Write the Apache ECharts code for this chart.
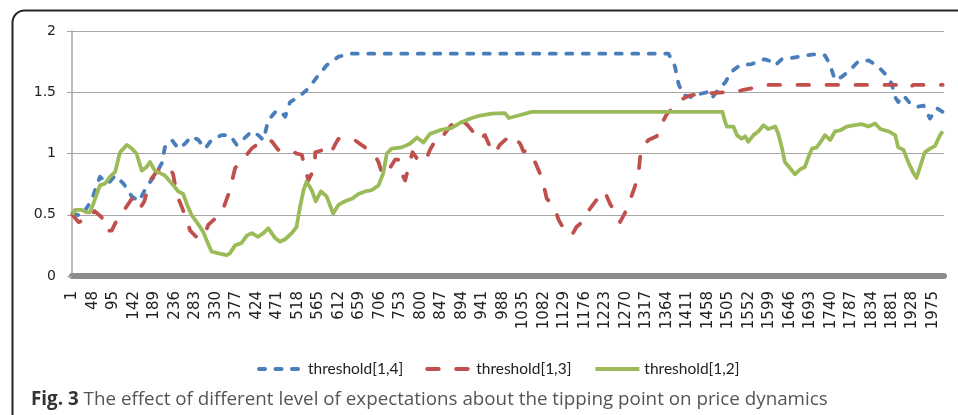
<!DOCTYPE html>
<html>
<head>
<meta charset="utf-8">
<script src="https://cdn.jsdelivr.net/npm/echarts@6/dist/echarts.min.js"></script>
<style>
html,body{margin:0;padding:0;background:#fff;}
#chart{width:958px;height:415px;}
</style>
</head>
<body>
<div id="chart"></div>
<script>
// ---- data ----
const seriesNames = ['threshold[1,4]', 'threshold[1,3]', 'threshold[1,2]'];
const xTicks = [1,48,95,142,189,236,283,330,377,424,471,518,565,612,659,706,753,800,847,894,941,988,1035,1082,1129,1176,1223,1270,1317,1364,1411,1458,1505,1552,1599,1646,1693,1740,1787,1834,1881,1928,1975];
const yTicks = [0, 0.5, 1, 1.5, 2];

const th14 = [[1,0.51],[22,0.49],[45,0.62],[64,0.81],[83,0.755],[99,0.82],[118,0.755],[137,0.65],[154,0.61],[171,0.73],[190,0.82],[206,0.92],[213,1.05],[229,1.11],[244,1.04],[259,1.08],[274,1.14],[290,1.11],[305,1.04],[320,1.11],[343,1.15],[362,1.15],[378,1.07],[397,1.13],[412,1.18],[427,1.15],[439,1.11],[450,1.27],[469,1.35],[480,1.34],[489,1.30],[500,1.42],[519,1.46],[542,1.53],[561,1.62],[584,1.72],[611,1.79],[642,1.815],[1368,1.815],[1383,1.71],[1391,1.57],[1402,1.475],[1421,1.46],[1444,1.49],[1456,1.50],[1467,1.45],[1482,1.52],[1498,1.58],[1513,1.67],[1532,1.72],[1559,1.73],[1574,1.75],[1589,1.77],[1605,1.75],[1613,1.72],[1628,1.77],[1651,1.78],[1681,1.80],[1704,1.81],[1727,1.80],[1738,1.73],[1750,1.60],[1765,1.625],[1784,1.68],[1803,1.75],[1827,1.76],[1846,1.72],[1865,1.65],[1880,1.57],[1888,1.46],[1895,1.42],[1907,1.475],[1922,1.41],[1937,1.38],[1953,1.39],[1968,1.285],[1983,1.37],[1997,1.34]];

const th13 = [[1,0.50],[15,0.44],[30,0.46],[38,0.46],[52,0.53],[68,0.48],[76,0.37],[91,0.37],[102,0.45],[120,0.54],[137,0.63],[154,0.54],[166,0.61],[179,0.78],[194,0.85],[206,0.89],[225,0.88],[232,0.83],[240,0.67],[251,0.57],[263,0.46],[271,0.37],[288,0.31],[298,0.31],[305,0.35],[313,0.42],[332,0.48],[347,0.55],[359,0.67],[366,0.76],[374,0.88],[389,0.95],[401,0.99],[412,1.04],[427,1.08],[443,1.11],[458,1.10],[473,1.03],[488,1.04],[505,1.02],[515,1.00],[527,0.99],[534,0.89],[542,0.78],[556,0.88],[558,1.01],[577,1.03],[592,0.99],[603,1.07],[611,1.12],[626,1.12],[645,1.12],[664,1.07],[680,1.03],[691,1.01],[703,0.93],[710,0.85],[718,0.82],[729,0.88],[741,0.95],[748,0.95],[756,0.84],[764,0.78],[775,0.93],[781,1.01],[791,0.96],[810,0.93],[821,1.03],[829,1.08],[840,1.15],[852,1.15],[867,1.22],[886,1.29],[893,1.27],[905,1.24],[917,1.19],[932,1.11],[947,1.15],[958,1.06],[970,1.00],[981,1.07],[993,1.11],[1010,1.15],[1028,1.08],[1035,1.02],[1050,1.02],[1062,0.93],[1073,0.84],[1081,0.755],[1089,0.63],[1104,0.58],[1116,0.46],[1127,0.39],[1146,0.33],[1157,0.40],[1173,0.45],[1180,0.51],[1203,0.62],[1215,0.69],[1223,0.68],[1234,0.59],[1245,0.52],[1257,0.44],[1272,0.54],[1280,0.62],[1291,0.73],[1299,0.82],[1303,0.97],[1307,1.05],[1322,1.11],[1341,1.14],[1352,1.24],[1364,1.32],[1383,1.39],[1398,1.44],[1414,1.47],[1429,1.48],[1456,1.49],[1498,1.50],[1521,1.50],[1540,1.52],[1570,1.54],[1597,1.56],[1900,1.56],[1912,1.54],[1920,1.535],[1930,1.56],[1997,1.56]];

const th12 = [[1,0.50],[7,0.54],[22,0.54],[34,0.52],[41,0.52],[49,0.59],[57,0.67],[64,0.74],[76,0.755],[87,0.81],[99,0.85],[110,1.01],[118,1.04],[126,1.07],[137,1.04],[148,1.00],[160,0.86],[171,0.89],[179,0.93],[190,0.86],[202,0.84],[213,0.82],[229,0.755],[244,0.69],[255,0.67],[263,0.59],[274,0.50],[290,0.42],[301,0.36],[309,0.29],[320,0.20],[336,0.185],[355,0.17],[362,0.185],[374,0.25],[389,0.27],[401,0.33],[412,0.35],[427,0.32],[439,0.35],[450,0.39],[466,0.31],[477,0.28],[489,0.30],[504,0.35],[515,0.40],[523,0.565],[531,0.70],[538,0.77],[550,0.70],[559,0.61],[571,0.69],[584,0.65],[599,0.51],[611,0.58],[626,0.61],[642,0.63],[657,0.67],[672,0.69],[687,0.70],[703,0.74],[714,0.84],[722,1.0],[733,1.04],[756,1.05],[775,1.08],[791,1.13],[806,1.09],[821,1.16],[844,1.19],[871,1.21],[890,1.25],[917,1.29],[936,1.31],[963,1.325],[993,1.33],[1002,1.29],[1024,1.31],[1054,1.34],[1492,1.34],[1497,1.27],[1502,1.22],[1517,1.22],[1525,1.15],[1536,1.12],[1544,1.14],[1551,1.095],[1563,1.15],[1574,1.18],[1586,1.23],[1597,1.20],[1613,1.22],[1620,1.16],[1628,1.05],[1635,0.93],[1647,0.88],[1658,0.83],[1670,0.87],[1681,0.89],[1689,0.97],[1697,1.04],[1708,1.05],[1720,1.11],[1727,1.15],[1739,1.11],[1750,1.18],[1762,1.19],[1777,1.22],[1792,1.23],[1811,1.24],[1827,1.22],[1842,1.245],[1854,1.20],[1873,1.18],[1888,1.15],[1895,1.05],[1907,1.03],[1918,0.93],[1930,0.84],[1937,0.80],[1945,0.89],[1956,1.01],[1968,1.04],[1979,1.06],[1991,1.15],[1997,1.18]];

const captionBold = 'Fig. 3';
const captionText = 'The effect of different level of expectations about the tipping point on price dynamics';

// ---- chart ----
const chart = echarts.init(document.getElementById('chart'), null, {renderer: 'canvas'});
const axisFont = 'DejaVu Sans';
chart.setOption({
  animation: false,
  backgroundColor: '#ffffff',
  graphic: [{
    type: 'rect', left: 10, top: 8, silent: true,
    shape: {width: 1000, height: 500, r: 12},
    style: {fill: 'none', stroke: '#262626', lineWidth: 2}
  }],
  title: {
    left: 26, top: 385,
    text: '{b|' + captionBold + '} {n|' + captionText + '}',
    textStyle: {
      fontWeight: 'normal',
      rich: {
        b: {fontFamily: 'Open Sans', fontWeight: 'bold', fontSize: 18.8, color: '#333333'},
        n: {fontFamily: 'Open Sans', fontWeight: 'normal', fontSize: 18.8, color: '#555555'}
      }
    }
  },
  legend: {
    top: 356, left: 252,
    itemWidth: 44, itemHeight: 12, itemGap: 22,
    itemStyle: {opacity: 0},
    lineStyle: {width: 4},
    textStyle: {fontFamily: 'Lato', fontSize: 15.5, color: '#222222'},
    data: seriesNames
  },
  grid: {left: 72, right: 14, top: 31, bottom: 139, containLabel: false},
  xAxis: {
    type: 'value', min: 0, max: 2000, offset: 2,
    axisLine: {show: true, lineStyle: {color: '#8c8c8c', width: 6}},
    axisTick: {show: false},
    splitLine: {show: false},
    axisLabel: {
      customValues: xTicks, rotate: 90, margin: 13,
      formatter: function (v) { return String(v); },
      fontFamily: axisFont, fontSize: 15, color: '#222222'
    }
  },
  yAxis: {
    type: 'value', min: yTicks[0], max: yTicks[yTicks.length - 1], interval: 0.5,
    axisLine: {show: true, lineStyle: {color: '#a6a6a6', width: 1.5}},
    axisTick: {show: true, length: 5, lineStyle: {color: '#a6a6a6'}},
    splitLine: {show: true, lineStyle: {color: '#a6a6a6', width: 1.2}},
    axisLabel: {margin: 16, fontFamily: axisFont, fontSize: 14, color: '#222222'}
  },
  series: [
    {name: seriesNames[0], type: 'line', data: th14, symbol: 'none', smooth: false, z: 2,
     itemStyle: {color: '#4a7ebb'},
     lineStyle: {color: '#4a7ebb', width: 3.8, type: [6, 10.5], cap: 'round', join: 'round'}},
    {name: seriesNames[1], type: 'line', data: th13, symbol: 'none', z: 3,
     itemStyle: {color: '#c0504d'},
     lineStyle: {color: '#c0504d', width: 3.8, type: [11.5, 17.5], cap: 'round', join: 'round'}},
    {name: seriesNames[2], type: 'line', data: th12, symbol: 'none', z: 4,
     itemStyle: {color: '#9bbb59'},
     lineStyle: {color: '#9bbb59', width: 3.8, type: 'solid', join: 'round'}}
  ]
});
</script>
</body>
</html>
